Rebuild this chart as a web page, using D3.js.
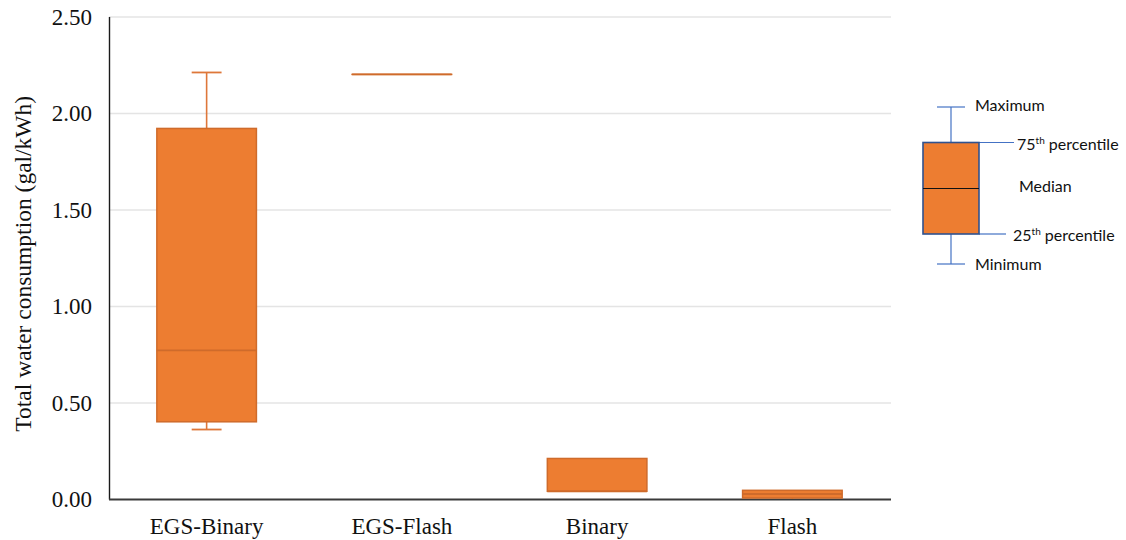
<!DOCTYPE html>
<html>
<head>
<meta charset="utf-8">
<script src="https://cdn.jsdelivr.net/npm/d3@7"></script>
<style>
  html, body { margin: 0; padding: 0; background: #ffffff; }
  svg { display: block; }
</style>
</head>
<body>
<svg id="chart" width="1126" height="540"></svg>
<script>
// ---- Data ----
const categories = ["EGS-Binary", "EGS-Flash", "Binary", "Flash"];
const minimums    = [0.36, 2.20, 0.04, 0.000];
const q1s         = [0.40, 2.20, 0.04, 0.005];
const medians     = [0.77, 2.20, 0.04, 0.026];
const q3s         = [1.92, 2.20, 0.21, 0.045];
const maximums    = [2.21, 2.20, 0.21, 0.045];
const yTicks      = [0, 0.5, 1.0, 1.5, 2.0, 2.5];
const yTitle      = "Total water consumption (gal/kWh)";
const keyLabels   = ["Maximum", "75", "Median", "25", "Minimum"];

(function () {
// ---- Layout ----
const svg = d3.select("#chart");
const pLeft = 109, pRight = 890, pTop = 16.5, pBottom = 499;

const x = d3.scaleBand().domain(categories).range([pLeft, pRight])
  .paddingInner(0.49).paddingOuter(0.245);
const y = d3.scaleLinear().domain([0, 2.5]).range([pBottom, pTop]);

const serif = "'Liberation Serif', 'Times New Roman', serif";
const orange = "#ED7D31", orangeStroke = "#CF6B2B";

// gridlines
svg.append("g")
  .attr("transform", `translate(${pLeft},0)`)
  .call(d3.axisLeft(y).tickValues(yTicks.filter(d => d > 0)).tickSize(-(pRight - pLeft + 1)).tickFormat(""))
  .call(g => g.select(".domain").remove())
  .call(g => g.selectAll("line").attr("stroke", "#E4E4E4").attr("stroke-width", 1.6));

// y axis labels + line
svg.append("g")
  .attr("transform", `translate(${pLeft},0)`)
  .call(d3.axisLeft(y).tickValues(yTicks).tickSize(0).tickPadding(17).tickFormat(d3.format(".2f")))
  .call(g => g.select(".domain").attr("stroke", "#1a1a1a").attr("stroke-width", 1.4))
  .call(g => g.selectAll("text").attr("font-family", serif).attr("font-size", 23)
    .attr("fill", "#111").attr("dy", "0.33em"));

// x axis
svg.append("g")
  .attr("transform", `translate(0,${pBottom})`)
  .call(d3.axisBottom(x).tickSize(0).tickPadding(19))
  .call(g => g.select(".domain").attr("stroke", "#3a3a3a").attr("stroke-width", 2.2)
    .attr("d", `M${pLeft},0.5H${pRight + 1}`))
  .call(g => g.selectAll("text").attr("font-family", serif).attr("font-size", 23).attr("fill", "#111"));

// boxes
const bw = x.bandwidth();
const capW = bw * 0.3;
const data = categories.map((c, i) => ({
  c, min: minimums[i], q1: q1s[i], med: medians[i], q3: q3s[i], max: maximums[i]
}));

const boxes = svg.append("g").selectAll("g").data(data).join("g");
const cx = d => x(d.c) + bw / 2;

// whiskers
boxes.append("line")
  .attr("x1", cx).attr("x2", cx)
  .attr("y1", d => y(d.max)).attr("y2", d => y(d.q3))
  .attr("stroke", "#DE773A").attr("stroke-width", 1.6);
boxes.append("line")
  .attr("x1", cx).attr("x2", cx)
  .attr("y1", d => y(d.q1)).attr("y2", d => y(d.min))
  .attr("stroke", "#DE773A").attr("stroke-width", 1.6);
boxes.filter(d => d.max > d.q3).append("line")
  .attr("x1", d => cx(d) - capW / 2).attr("x2", d => cx(d) + capW / 2)
  .attr("y1", d => y(d.max)).attr("y2", d => y(d.max))
  .attr("stroke", "#DE773A").attr("stroke-width", 1.8);
boxes.filter(d => d.min < d.q1 && d.min > 0).append("line")
  .attr("x1", d => cx(d) - capW / 2).attr("x2", d => cx(d) + capW / 2)
  .attr("y1", d => y(d.min)).attr("y2", d => y(d.min))
  .attr("stroke", "#DE773A").attr("stroke-width", 1.8);

// box
boxes.append("rect")
  .attr("x", d => x(d.c)).attr("width", bw)
  .attr("y", d => y(d.q3)).attr("height", d => Math.max(0.01, y(d.q1) - y(d.q3)))
  .attr("fill", orange).attr("stroke", orangeStroke).attr("stroke-width", 1.5);
// median
boxes.append("line")
  .attr("x1", d => x(d.c)).attr("x2", d => x(d.c) + bw)
  .attr("y1", d => y(d.med)).attr("y2", d => y(d.med))
  .attr("stroke", orangeStroke).attr("stroke-width", 1.8);

// y title
svg.append("text")
  .attr("transform", `translate(31,${(pTop + pBottom) / 2 + 6}) rotate(-90)`)
  .attr("text-anchor", "middle")
  .attr("font-family", serif).attr("font-size", 23.5).attr("fill", "#111")
  .text(yTitle);

// ---- Key (explanatory box) ----
const key = svg.append("g");
const kBlue = "#4472C4", kBorder = "#2F528F";
const kx0 = 923, kx1 = 979, kcx = 951;
const kMax = 107, kQ3 = 142.5, kMed = 188.5, kQ1 = 234, kMin = 264;
const kcap = 14;
const kLine = (x1, y1, x2, y2, c, w) => key.append("line")
  .attr("x1", x1).attr("y1", y1).attr("x2", x2).attr("y2", y2)
  .attr("stroke", c).attr("stroke-width", w);
kLine(kcx, kMax, kcx, kQ3, kBlue, 1.2);
kLine(kcx - kcap, kMax, kcx + kcap, kMax, kBlue, 1.2);
kLine(kcx, kQ1, kcx, kMin, kBlue, 1.2);
kLine(kcx - kcap, kMin, kcx + kcap, kMin, kBlue, 1.2);
kLine(kx1, kQ3, 1014, kQ3, kBlue, 1.2);
kLine(kx1, kQ1, 1006, kQ1, kBlue, 1.2);
key.append("rect").attr("x", kx0).attr("y", kQ3).attr("width", kx1 - kx0).attr("height", kQ1 - kQ3)
  .attr("fill", orange).attr("stroke", kBorder).attr("stroke-width", 1.6);
kLine(kx0, kMed, kx1, kMed, "#111", 1.2);

const sans = "Lato, 'Open Sans', sans-serif";
const kText = (tx, ty, label, sup) => {
  const t = key.append("text").attr("x", tx).attr("y", ty)
    .attr("font-family", sans).attr("font-size", 16).attr("fill", "#111");
  if (sup) {
    t.append("tspan").text(label);
    t.append("tspan").attr("font-size", 10).attr("dy", -6).text("th");
    t.append("tspan").attr("dy", 6).text(" percentile");
  } else {
    t.text(label);
  }
};
kText(975, 111, keyLabels[0]);
kText(1017, 150, keyLabels[1], true);
kText(1019, 192, keyLabels[2]);
kText(1013, 241, keyLabels[3], true);
kText(975, 270, keyLabels[4]);
})();
</script>
</body>
</html>
